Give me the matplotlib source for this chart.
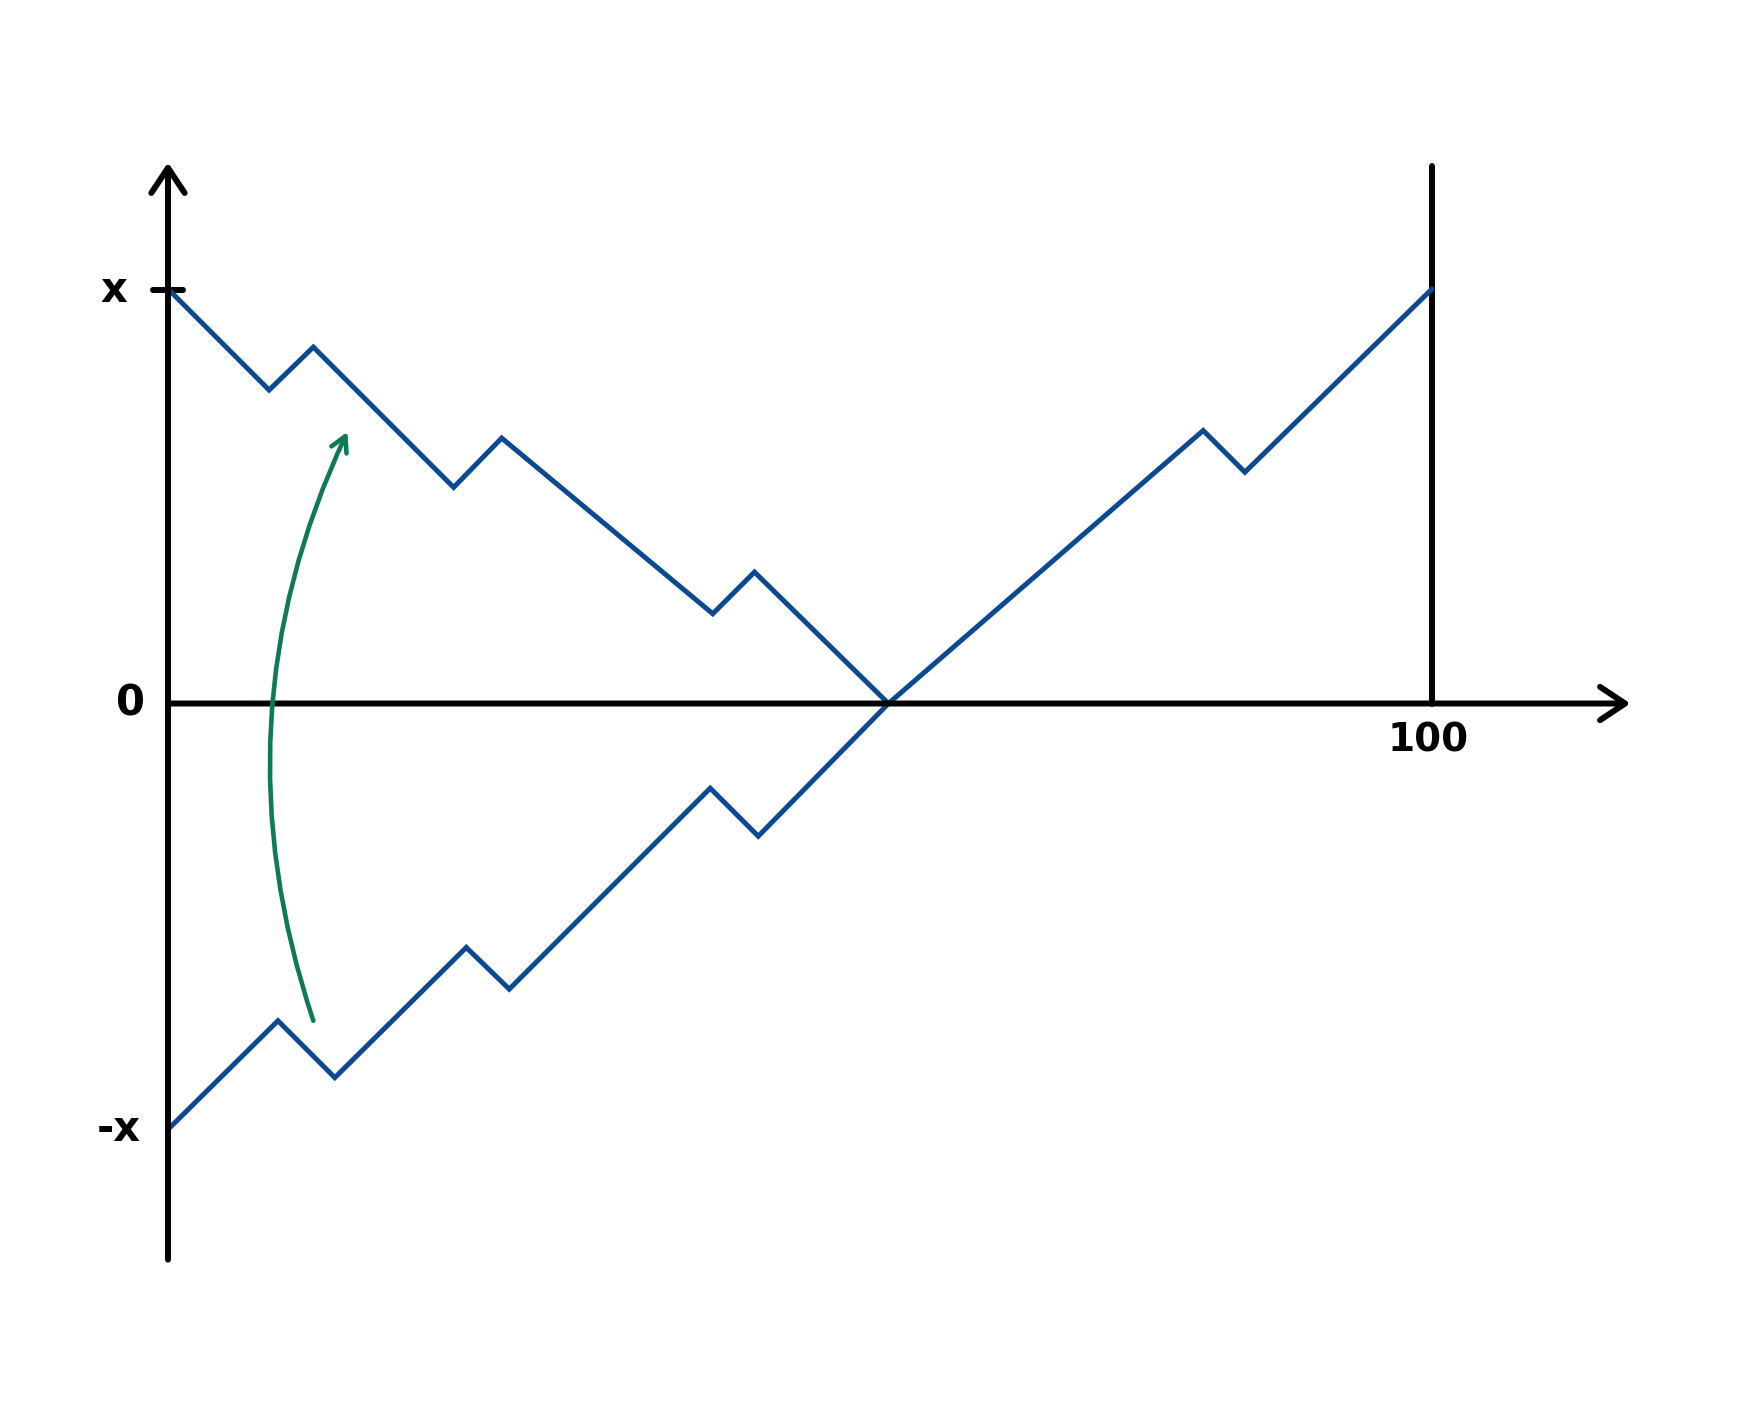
import matplotlib.pyplot as plt

# reflected random walk, time on x (0..100), level on y
upper_t = [0, 8.0, 11.5, 22.6, 26.4, 43.1, 46.4, 57.0, 81.9, 85.2, 100]
upper_y = [32.8, 24.8, 28.2, 17.1, 21.0, 7.1, 10.4, 0, 21.6, 18.3, 32.8]
lower_t = [0, 8.7, 13.2, 23.6, 27.0, 42.9, 46.7, 57.0]
lower_y = [-33.7, -25.1, -29.6, -19.3, -22.6, -6.7, -10.5, 0]

level_labels = ["x", "0", "-x"]
level_values = [32.7, 0, -33.7]
end_time = 100

blue = "#0B4A92"
green = "#0E7A5A"

fig = plt.figure(figsize=(17.61, 14.06), dpi=100)
ax = fig.add_axes([0, 0, 1, 1])
ax.set_xlim(-13.29, 126.03)
ax.set_ylim(-55.58, 55.66)
ax.axis("off")

# axes with open arrow heads
axis_kw = dict(arrowstyle="->,head_length=0.9,head_width=0.6", lw=4.3, color="black",
               mutation_scale=20, capstyle="round", joinstyle="round", shrinkA=0, shrinkB=0)
ax.annotate("", xy=(0, 42.8), xytext=(0, -44.0), arrowprops=axis_kw)
ax.annotate("", xy=(115.7, 0), xytext=(0, 0), arrowprops=axis_kw)
ax.plot([end_time, end_time], [0, 42.5], color="black", lw=4.3, solid_capstyle="round")
ax.plot([-1.2, 1.2], [level_values[0], level_values[0]], color="black", lw=4.3,
        solid_capstyle="round")

# paths
ax.plot(upper_t, upper_y, color=blue, lw=3.6, solid_capstyle="round", solid_joinstyle="miter")
ax.plot(lower_t, lower_y, color=blue, lw=3.6, solid_capstyle="round", solid_joinstyle="miter")

# curved reflection arrow
ax.annotate("", xy=(14.2, 21.5), xytext=(11.5, -25.1),
            arrowprops=dict(arrowstyle="->,head_length=0.55,head_width=0.3", lw=3.3,
                            color=green, mutation_scale=20, shrinkA=0, shrinkB=0,
                            connectionstyle="arc3,rad=-0.2", capstyle="round",
                            joinstyle="round"))

# labels
label_x = [-4.3, -3.0, -3.9]
for lab, lx, ly in zip(level_labels, label_x, level_values):
    ax.text(lx, ly, lab, fontsize=30, fontweight="bold", ha="center", va="center")
ax.text(99.7, -2.9, str(end_time), fontsize=28, fontweight="bold", ha="center", va="center")

fig.savefig("out.png", dpi=100, facecolor="white")
